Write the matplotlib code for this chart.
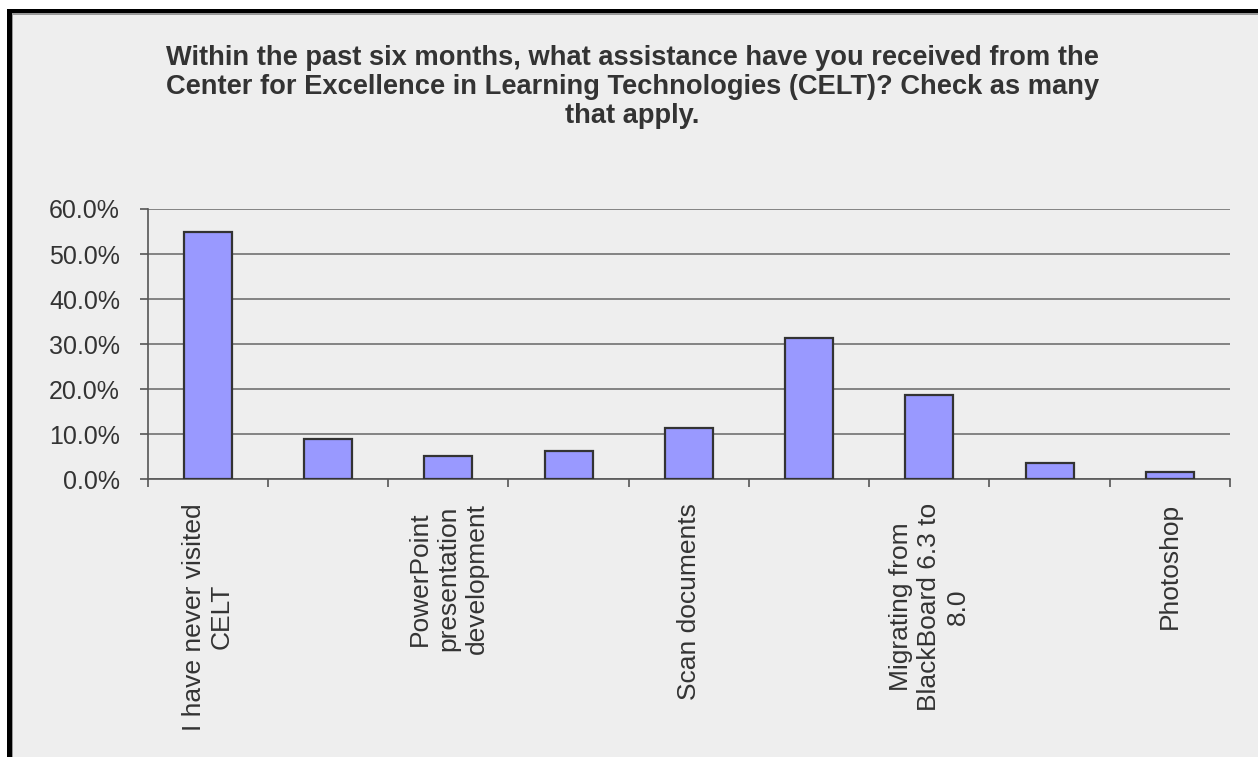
import numpy as np
import matplotlib.pyplot as plt
from matplotlib.patches import Rectangle
from matplotlib.ticker import FuncFormatter

# data (only every other category label is shown)
categories = ['I have never visited\nCELT', '', 'PowerPoint\npresentation\ndevelopment', '',
              'Scan documents', '', 'Migrating from\nBlackBoard 6.3 to\n8.0', '', 'Photoshop']
values = [55.0, 8.9, 5.2, 6.3, 11.4, 31.4, 18.8, 3.6, 1.6]
title = ('Within the past six months, what assistance have you received from the\n'
         'Center for Excellence in Learning Technologies (CELT)? Check as many\n'
         'that apply.')

plt.rcParams['font.family'] = ['Liberation Sans', 'DejaVu Sans']
bg = '#EEEEEE'
txt = '#333333'

fig = plt.figure(figsize=(12.58, 7.57), dpi=100, facecolor=bg)
W, H = 1258.0, 757.0

# outer frame: white margin, thick black line on top/left
fig.add_artist(Rectangle((0, 1 - 9 / H), 1, 9 / H, transform=fig.transFigure, color='white', lw=0))
fig.add_artist(Rectangle((0, 0), 7 / W, 1, transform=fig.transFigure, color='white', lw=0))
fig.add_artist(Rectangle((7 / W, 1 - 13 / H), 1, 4 / H, transform=fig.transFigure, color='black', lw=0))
fig.add_artist(Rectangle((7 / W, 0), 5 / W, 1 - 9 / H, transform=fig.transFigure, color='black', lw=0))
fig.add_artist(Rectangle((12 / W, 1 - 14.5 / H), 1, 1.5 / H, transform=fig.transFigure, color='#999999', lw=0))
fig.add_artist(Rectangle((12 / W, 0), 1.5 / W, 1 - 13 / H, transform=fig.transFigure, color='#999999', lw=0))

ax = fig.add_axes([147.7 / W, 1 - 479.3 / H, (1230 - 147.7) / W, (479.3 - 209) / H])
ax.set_facecolor(bg)

x = np.arange(len(values))
ax.bar(x, values, width=0.4, color='#9999FF', edgecolor='#333333', linewidth=1.6, zorder=3)

ax.set_xlim(-0.5, len(values) - 0.5)
ax.set_ylim(0, 60)
ax.set_yticks(np.arange(0, 61, 10))
ax.yaxis.set_major_formatter(FuncFormatter(lambda v, p: '%.1f%%' % v))
ax.grid(axis='y', color='#707070', linewidth=1.2, zorder=0)

ax.set_xticks(np.arange(-0.5, len(values)), labels=[])
ax.set_xticks(x, minor=True)
ax.set_xticklabels(categories, minor=True, rotation=90, ha='center', va='top',
                   multialignment='center', linespacing=1.22, fontsize=19, color=txt)
ax.tick_params(axis='x', which='minor', length=0, pad=17)
ax.tick_params(axis='x', which='major', length=6, width=1.2, color='#555555', direction='out')
ax.tick_params(axis='y', length=6, width=1.2, color='#555555', direction='out',
               pad=14, labelsize=18, labelcolor=txt)

for s in ['top', 'right']:
    ax.spines[s].set_visible(False)
ax.spines['left'].set_color('#555555')
ax.spines['left'].set_linewidth(1.2)
ax.spines['bottom'].set_color('#555555')
ax.spines['bottom'].set_linewidth(1.2)

fig.text(0.5026, 1 - 45 / H, title, ha='center', va='top', fontsize=19.6, fontweight='bold',
         color=txt, linespacing=1.14)

fig.savefig('out.png', dpi=100, facecolor=bg)
